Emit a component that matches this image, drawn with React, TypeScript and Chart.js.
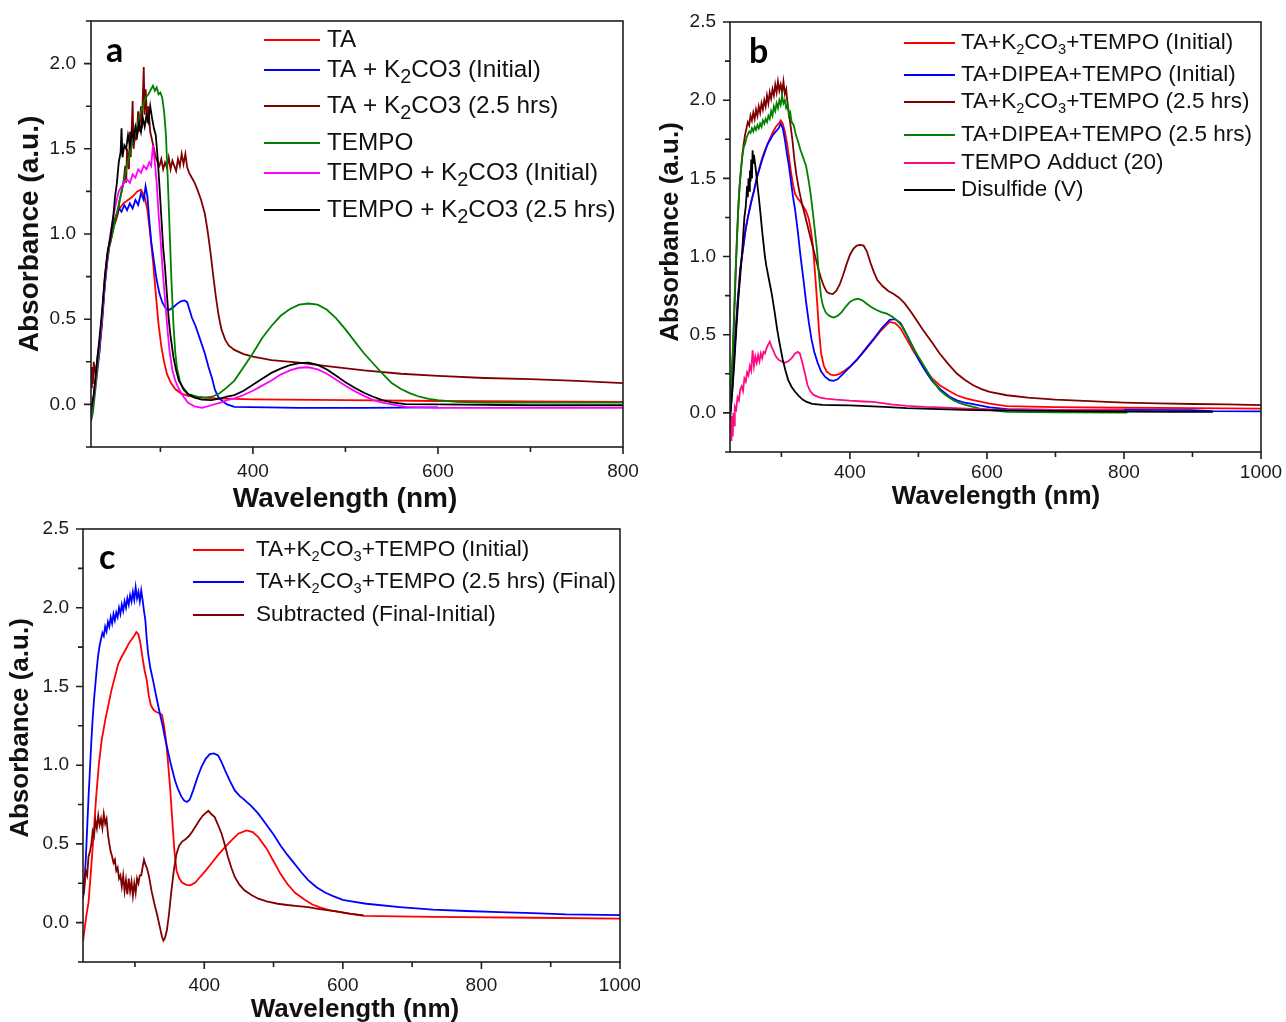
import React, { useEffect, useRef } from "react";
import { Chart, registerables } from "chart.js";
Chart.register(...registerables);

type Pt = [number, number];

// ---------------- Panel a data ----------------
const A_X_TICKS = [400, 600, 800];
const A_X_MINOR = [300, 500, 700];
const A_Y_TICKS = [0, 0.5, 1.0, 1.5, 2.0];
const A_Y_MINOR = [-0.25, 0.25, 0.75, 1.25, 1.75, 2.25];

const A_TA: Pt[] = [[225,-0.06],[228,0.05],[231,0.2],[234,0.32],[237,0.5],[240,0.72],[243,0.88],[246,0.98],[249,1.06],[252,1.11],[256,1.15],[260,1.18],[265,1.2],[270,1.22],[275,1.25],[279,1.26],[283,1.22],[286,1.14],[289,1.0],[292,0.84],[295,0.65],[298,0.47],[301,0.34],[304,0.25],[307,0.18],[311,0.13],[316,0.09],[322,0.065],[330,0.05],[340,0.042],[360,0.035],[400,0.03],[500,0.025],[600,0.02],[700,0.018],[800,0.015]];
const A_TA_K_INIT: Pt[] = [[225,-0.07],[228,0.03],[231,0.18],[234,0.3],[237,0.48],[240,0.7],[243,0.86],[246,0.98],[249,1.06],[252,1.1],[255,1.15],[258,1.13],[261,1.17],[264,1.14],[267,1.18],[270,1.15],[273,1.2],[276,1.17],[279,1.24],[282,1.2],[284,1.28],[286,1.22],[288,1.08],[290,0.96],[293,0.84],[296,0.73],[299,0.65],[302,0.6],[306,0.56],[310,0.555],[314,0.57],[318,0.59],[322,0.605],[326,0.61],[329,0.6],[334,0.51],[338,0.46],[343,0.38],[348,0.3],[352,0.22],[356,0.15],[359,0.085],[363,0.04],[367,0.02],[372,0.0],[380,-0.015],[450,-0.02],[520,-0.02],[600,-0.018]];
const A_TA_K_25: Pt[] = [[225,0.1],[226,0.22],[227,0.12],[228,0.25],[230,0.17],[232,0.28],[234,0.35],[236,0.45],[238,0.6],[240,0.75],[242,0.85],[244,0.92],[246,0.95],[248,1.0],[250,1.05],[252,1.08],[254,1.12],[256,1.2],[258,1.25],[260,1.3],[262,1.4],[263,1.3],[264,1.5],[266,1.38],[267,1.6],[268,1.45],[270,1.78],[271,1.5],[273,1.6],[274,1.55],[276,1.72],[277,1.6],[279,1.75],[280,1.62],[282,1.98],[283,1.7],[284,1.85],[286,1.65],[287,1.75],[289,1.6],[291,1.55],[293,1.5],[295,1.45],[297,1.42],[299,1.4],[301,1.44],[303,1.38],[305,1.42],[307,1.39],[309,1.45],[311,1.38],[313,1.43],[315,1.4],[317,1.37],[319,1.44],[321,1.4],[323,1.47],[325,1.41],[327,1.47],[329,1.39],[331,1.36],[334,1.33],[337,1.3],[340,1.26],[344,1.2],[348,1.12],[351,1.02],[354,0.9],[357,0.76],[360,0.63],[363,0.52],[366,0.44],[370,0.38],[374,0.345],[380,0.32],[390,0.295],[400,0.28],[420,0.26],[450,0.245],[480,0.225],[520,0.2],[560,0.18],[600,0.167],[650,0.155],[700,0.148],[750,0.138],[800,0.125]];
const A_TEMPO: Pt[] = [[225,-0.1],[227,-0.05],[230,0.1],[233,0.25],[236,0.45],[239,0.65],[242,0.82],[245,0.93],[248,1.0],[251,1.08],[254,1.15],[257,1.22],[260,1.3],[263,1.38],[266,1.45],[269,1.52],[272,1.58],[275,1.63],[278,1.7],[281,1.75],[284,1.8],[287,1.82],[290,1.85],[292,1.87],[294,1.84],[296,1.86],[298,1.82],[300,1.83],[302,1.8],[304,1.72],[306,1.58],[308,1.32],[310,1.02],[312,0.72],[314,0.48],[316,0.31],[318,0.21],[321,0.14],[325,0.085],[330,0.06],[340,0.045],[348,0.04],[356,0.045],[364,0.065],[372,0.1],[380,0.14],[390,0.22],[400,0.3],[410,0.39],[420,0.46],[430,0.52],[440,0.56],[450,0.585],[460,0.592],[470,0.585],[480,0.555],[490,0.505],[500,0.44],[510,0.37],[520,0.3],[530,0.24],[540,0.18],[550,0.125],[560,0.09],[570,0.065],[580,0.045],[590,0.033],[600,0.025],[620,0.015],[650,0.01],[700,0.01],[800,0.01]];
const A_TEMPO_K_INIT: Pt[] = [[225,-0.05],[228,0.05],[231,0.2],[234,0.35],[237,0.52],[240,0.72],[243,0.88],[246,1.0],[249,1.1],[252,1.18],[255,1.25],[258,1.28],[261,1.3],[264,1.32],[267,1.3],[270,1.35],[273,1.33],[276,1.38],[279,1.36],[282,1.4],[285,1.38],[288,1.42],[290,1.4],[292,1.52],[294,1.42],[296,1.3],[298,1.12],[300,0.98],[302,0.82],[304,0.68],[306,0.55],[308,0.42],[310,0.31],[313,0.2],[316,0.14],[320,0.09],[325,0.045],[330,0.01],[337,-0.012],[345,-0.02],[355,-0.005],[365,0.01],[372,0.025],[380,0.035],[390,0.055],[400,0.08],[410,0.11],[420,0.14],[430,0.175],[440,0.2],[450,0.215],[460,0.218],[470,0.205],[480,0.18],[490,0.145],[500,0.11],[510,0.078],[520,0.05],[530,0.025],[540,0.01],[550,0.0],[565,-0.014],[600,-0.02],[700,-0.02],[800,-0.02]];
const A_TEMPO_K_25: Pt[] = [[225,-0.04],[228,0.06],[231,0.22],[234,0.38],[237,0.55],[240,0.75],[243,0.9],[246,0.98],[249,1.1],[251,1.22],[253,1.3],[255,1.42],[257,1.48],[258,1.62],[259,1.45],[261,1.52],[263,1.5],[265,1.58],[267,1.52],[269,1.6],[271,1.56],[273,1.63],[275,1.58],[277,1.65],[279,1.6],[281,1.68],[283,1.63],[285,1.7],[287,1.66],[289,1.75],[291,1.68],[293,1.62],[295,1.58],[297,1.45],[299,1.28],[301,1.1],[303,0.92],[305,0.8],[307,0.65],[309,0.5],[311,0.4],[314,0.28],[317,0.2],[320,0.14],[324,0.1],[330,0.06],[337,0.04],[345,0.028],[355,0.025],[365,0.035],[372,0.045],[380,0.055],[390,0.08],[400,0.115],[410,0.15],[420,0.185],[430,0.21],[440,0.23],[450,0.242],[460,0.245],[470,0.232],[480,0.205],[490,0.168],[500,0.13],[510,0.098],[520,0.068],[530,0.045],[540,0.025],[550,0.012],[565,0.002],[600,0.0],[700,-0.005],[800,-0.005]];

// ---------------- Panel b data ----------------
const B_X_TICKS = [400, 600, 800, 1000];
const B_X_MINOR = [300, 500, 700, 900];
const B_Y_TICKS = [0, 0.5, 1.0, 1.5, 2.0, 2.5];
const B_Y_MINOR = [-0.25, 0.25, 0.75, 1.25, 1.75, 2.25];

const B_K_INIT: Pt[] = [[225,0.0],[228,0.15],[232,0.44],[236,0.7],[240,0.92],[244,1.05],[248,1.18],[252,1.27],[256,1.35],[260,1.42],[264,1.5],[268,1.57],[272,1.63],[276,1.68],[280,1.72],[284,1.76],[288,1.8],[292,1.83],[296,1.85],[299,1.87],[302,1.85],[305,1.8],[308,1.73],[311,1.64],[314,1.54],[317,1.46],[320,1.4],[324,1.37],[328,1.35],[332,1.32],[336,1.29],[340,1.24],[343,1.17],[346,1.07],[349,0.9],[352,0.72],[355,0.52],[358,0.38],[362,0.3],[366,0.265],[372,0.245],[378,0.24],[385,0.25],[392,0.27],[400,0.295],[410,0.337],[422,0.4],[434,0.465],[446,0.53],[458,0.582],[466,0.575],[474,0.54],[483,0.47],[492,0.4],[500,0.345],[507,0.295],[520,0.22],[531,0.177],[545,0.14],[556,0.113],[568,0.095],[580,0.081],[604,0.06],[629,0.043],[700,0.037],[800,0.033],[900,0.03],[1000,0.028]];
const B_D_INIT: Pt[] = [[225,-0.02],[228,0.12],[232,0.42],[236,0.7],[240,0.92],[244,1.05],[248,1.18],[252,1.27],[256,1.35],[260,1.42],[264,1.5],[268,1.56],[272,1.62],[276,1.67],[280,1.72],[284,1.75],[288,1.78],[292,1.8],[296,1.82],[299,1.85],[302,1.82],[305,1.75],[308,1.66],[311,1.58],[314,1.48],[317,1.38],[320,1.3],[324,1.16],[328,1.0],[332,0.86],[336,0.71],[340,0.58],[344,0.47],[348,0.39],[353,0.32],[358,0.265],[364,0.23],[370,0.21],[376,0.205],[382,0.215],[390,0.25],[400,0.295],[410,0.34],[422,0.405],[434,0.47],[446,0.54],[458,0.595],[466,0.6],[474,0.575],[483,0.5],[492,0.42],[500,0.345],[510,0.27],[520,0.205],[531,0.155],[545,0.105],[556,0.08],[568,0.065],[580,0.056],[604,0.035],[630,0.024],[700,0.02],[800,0.02],[900,0.018],[930,0.012],[1000,0.01]];
const B_K_25: Pt[] = [[225,0.12],[227,0.2],[229,0.35],[231,0.6],[233,0.85],[235,1.1],[237,1.3],[239,1.45],[241,1.55],[243,1.65],[245,1.72],[247,1.78],[249,1.82],[251,1.86],[253,1.84],[255,1.9],[257,1.87],[259,1.92],[261,1.88],[263,1.94],[265,1.9],[267,1.96],[269,1.92],[271,1.98],[273,1.94],[275,2.0],[277,1.96],[279,2.03],[281,1.98],[283,2.05],[285,2.01],[287,2.07],[289,2.03],[291,2.1],[293,2.05],[295,2.12],[297,2.06],[299,2.1],[301,2.05],[303,2.12],[305,2.04],[307,2.07],[309,1.98],[311,1.92],[313,1.85],[316,1.75],[319,1.62],[322,1.52],[326,1.42],[330,1.34],[334,1.27],[338,1.2],[342,1.13],[346,1.06],[350,0.99],[354,0.92],[358,0.86],[362,0.81],[366,0.775],[370,0.765],[375,0.76],[380,0.78],[385,0.82],[390,0.88],[395,0.95],[400,1.01],[405,1.05],[410,1.07],[415,1.075],[420,1.07],[425,1.03],[430,0.96],[435,0.9],[440,0.85],[448,0.81],[456,0.78],[464,0.76],[472,0.735],[480,0.7],[490,0.64],[500,0.575],[507,0.529],[520,0.45],[531,0.38],[544,0.31],[556,0.252],[568,0.21],[580,0.177],[592,0.152],[604,0.135],[629,0.113],[660,0.098],[700,0.085],[750,0.075],[800,0.066],[850,0.061],[900,0.057],[950,0.054],[1000,0.05]];
const B_D_25: Pt[] = [[225,0.08],[227,0.2],[229,0.4],[231,0.65],[233,0.9],[235,1.1],[237,1.3],[239,1.45],[241,1.56],[243,1.64],[245,1.7],[247,1.72],[249,1.76],[251,1.78],[253,1.8],[255,1.79],[257,1.82],[259,1.8],[261,1.83],[263,1.81],[265,1.84],[267,1.82],[269,1.85],[271,1.83],[273,1.87],[275,1.85],[277,1.88],[279,1.86],[281,1.9],[283,1.88],[285,1.93],[287,1.9],[289,1.96],[291,1.93],[293,1.98],[295,1.95],[297,2.0],[299,1.97],[301,2.03],[303,1.98],[305,2.0],[307,1.95],[309,1.97],[311,1.9],[313,1.92],[315,1.86],[318,1.84],[321,1.78],[324,1.74],[328,1.68],[332,1.63],[336,1.58],[340,1.48],[343,1.39],[346,1.28],[349,1.16],[352,1.04],[355,0.87],[358,0.74],[361,0.68],[365,0.64],[370,0.62],[376,0.61],[382,0.62],[388,0.645],[394,0.68],[400,0.71],[406,0.725],[412,0.73],[418,0.72],[424,0.7],[430,0.68],[438,0.66],[446,0.645],[454,0.635],[462,0.615],[470,0.585],[476,0.555],[484,0.49],[492,0.42],[500,0.36],[512,0.273],[522,0.2],[531,0.146],[541,0.11],[551,0.081],[560,0.062],[570,0.05],[580,0.038],[590,0.028],[610,0.015],[630,0.007],[700,0.003],[805,0.002]];
const B_ADDUCT: Pt[] = [[225,-0.12],[226,-0.05],[227,-0.18],[228,-0.02],[229,-0.15],[230,0.0],[231,-0.08],[232,0.04],[234,0.02],[236,0.1],[238,0.08],[240,0.15],[242,0.17],[244,0.14],[246,0.22],[248,0.2],[250,0.26],[252,0.24],[254,0.3],[256,0.27],[258,0.4],[260,0.3],[262,0.36],[264,0.32],[266,0.37],[268,0.33],[270,0.38],[272,0.35],[274,0.39],[276,0.38],[278,0.41],[280,0.43],[283,0.455],[286,0.42],[289,0.39],[292,0.36],[296,0.34],[300,0.33],[305,0.32],[310,0.33],[315,0.35],[320,0.38],[324,0.39],[327,0.38],[330,0.33],[334,0.26],[338,0.18],[342,0.14],[347,0.115],[355,0.1],[365,0.092],[380,0.085],[400,0.078],[420,0.073],[434,0.07],[460,0.055],[483,0.045],[510,0.038],[531,0.035],[570,0.028],[604,0.022],[700,0.02],[800,0.02]];
const B_DISULFIDE: Pt[] = [[225,-0.05],[228,0.12],[231,0.3],[234,0.52],[237,0.72],[240,0.88],[243,1.05],[246,1.25],[248,1.32],[250,1.45],[251,1.38],[252,1.5],[253,1.42],[254,1.55],[255,1.48],[256,1.62],[257,1.5],[258,1.68],[259,1.6],[260,1.65],[262,1.58],[264,1.5],[266,1.42],[268,1.34],[270,1.25],[272,1.16],[274,1.08],[276,1.0],[278,0.94],[282,0.85],[286,0.76],[290,0.65],[294,0.53],[298,0.43],[302,0.34],[306,0.27],[310,0.21],[315,0.166],[320,0.135],[325,0.11],[331,0.085],[337,0.07],[345,0.058],[360,0.052],[375,0.05],[400,0.048],[450,0.038],[483,0.03],[530,0.024],[580,0.018],[650,0.015],[726,0.011],[800,0.009],[872,0.007],[930,0.006]];

// ---------------- Panel c data ----------------
const C_X_TICKS = [400, 600, 800, 1000];
const C_X_MINOR = [300, 500, 700, 900];
const C_Y_TICKS = [0, 0.5, 1.0, 1.5, 2.0, 2.5];
const C_Y_MINOR = [-0.25, 0.25, 0.75, 1.25, 1.75, 2.25];

const C_INITIAL: Pt[] = [[225,-0.12],[227,-0.05],[230,0.05],[233,0.13],[236,0.3],[240,0.54],[244,0.8],[248,1.01],[252,1.16],[257,1.285],[262,1.39],[266,1.475],[271,1.56],[276,1.645],[281,1.69],[286,1.73],[292,1.78],[298,1.815],[302,1.846],[305,1.83],[308,1.77],[311,1.68],[314,1.6],[317,1.54],[320,1.44],[323,1.38],[327,1.35],[331,1.338],[335,1.33],[339,1.32],[342,1.25],[345,1.15],[348,1.0],[351,0.84],[354,0.64],[357,0.45],[360,0.33],[364,0.28],[368,0.255],[374,0.24],[380,0.237],[387,0.255],[394,0.29],[402,0.33],[410,0.374],[420,0.43],[430,0.48],[440,0.525],[449,0.565],[461,0.586],[470,0.575],[478,0.543],[490,0.47],[500,0.39],[510,0.31],[520,0.245],[531,0.19],[545,0.145],[556,0.115],[568,0.095],[580,0.08],[604,0.06],[630,0.043],[730,0.036],[874,0.031],[1000,0.025]];
const C_FINAL: Pt[] = [[225,0.15],[227,0.25],[229,0.4],[231,0.6],[233,0.8],[235,0.97],[237,1.15],[239,1.3],[241,1.42],[243,1.52],[245,1.62],[247,1.7],[249,1.76],[251,1.8],[253,1.84],[255,1.82],[257,1.88],[259,1.85],[261,1.91],[263,1.88],[265,1.94],[267,1.9],[269,1.96],[271,1.92],[273,1.97],[275,1.94],[277,2.0],[279,1.96],[281,2.02],[283,1.98],[285,2.04],[287,2.0],[289,2.06],[291,2.02],[293,2.08],[295,2.04],[297,2.1],[299,2.05],[301,2.13],[303,2.06],[305,2.1],[307,2.04],[309,2.11],[311,2.05],[313,1.98],[315,1.92],[317,1.8],[319,1.71],[322,1.62],[326,1.54],[331,1.43],[336,1.327],[340,1.25],[343,1.18],[347,1.1],[351,1.02],[355,0.95],[358,0.9],[362,0.85],[367,0.8],[371,0.775],[375,0.766],[379,0.78],[384,0.84],[390,0.92],[396,0.99],[402,1.04],[408,1.07],[414,1.075],[420,1.062],[425,1.02],[430,0.967],[437,0.9],[444,0.84],[451,0.805],[458,0.78],[468,0.74],[478,0.692],[490,0.62],[500,0.56],[510,0.49],[520,0.43],[531,0.37],[540,0.32],[550,0.27],[562,0.225],[575,0.19],[586,0.168],[600,0.145],[610,0.137],[634,0.12],[682,0.099],[730,0.082],[778,0.074],[826,0.067],[874,0.061],[922,0.053],[1000,0.048]];
const C_SUBTRACTED: Pt[] = [[225,0.28],[227,0.22],[229,0.33],[231,0.3],[233,0.42],[235,0.45],[237,0.5],[239,0.58],[241,0.55],[243,0.65],[245,0.6],[247,0.68],[249,0.62],[251,0.66],[253,0.6],[255,0.69],[257,0.63],[259,0.66],[261,0.56],[263,0.5],[265,0.45],[267,0.42],[269,0.38],[271,0.4],[273,0.33],[275,0.35],[277,0.28],[279,0.3],[281,0.23],[283,0.3],[285,0.2],[287,0.27],[289,0.18],[291,0.28],[293,0.2],[295,0.26],[297,0.17],[299,0.25],[301,0.19],[303,0.28],[305,0.25],[307,0.3],[309,0.3],[311,0.35],[313,0.4],[315,0.37],[317,0.35],[320,0.3],[324,0.2],[328,0.12],[332,0.05],[336,-0.03],[339,-0.09],[341,-0.115],[343,-0.1],[346,-0.05],[349,0.05],[352,0.18],[356,0.33],[360,0.44],[364,0.49],[368,0.515],[373,0.53],[378,0.55],[383,0.58],[388,0.615],[393,0.65],[398,0.68],[403,0.7],[406,0.71],[410,0.69],[415,0.67],[420,0.62],[425,0.565],[430,0.49],[434,0.42],[439,0.35],[444,0.29],[451,0.24],[458,0.205],[468,0.175],[478,0.152],[490,0.135],[506,0.12],[520,0.112],[535,0.105],[550,0.098],[564,0.088],[580,0.078],[593,0.07],[610,0.057],[630,0.046]];

// ---------------- styles / layout ----------------
const RED = "#ff0000";
const BLUE = "#0000ff";
const BROWN = "#800000";
const GREEN = "#008000";
const MAGENTA = "#ff00ff";
const PINK = "#ff0a82";
const BLACK = "#000000";
const SANS = '"Liberation Sans", Arial, sans-serif';
const LETTER_FONT = 'Lato, "Open Sans", sans-serif';

interface Series { label: string; color: string; data: Pt[] }
interface Panel {
  id: string; left: number; top: number; w: number; h: number;
  plot: { l: number; t: number; r: number; b: number };
  xr: [number, number]; yr: [number, number];
  xTicks: number[]; xMinor: number[]; yTicks: number[]; yMinor: number[];
  xPad: number; yPad: number;
  series: Series[];
  legend: { x1: number; x2: number; tx: number; ys: number[]; size: number; sub: number };
  letter: { t: string; x: number; y: number };
  yTitle: { x: number; y: number; size: number };
  xTitle: { x: number; y: number; size: number };
}

const PANELS: Panel[] = [
  {
    id: "a", left: 0, top: 0, w: 640, h: 525,
    plot: { l: 91, t: 21, r: 623, b: 447 },
    xr: [225, 800], yr: [-0.25, 2.25],
    xTicks: A_X_TICKS, xMinor: A_X_MINOR, yTicks: A_Y_TICKS, yMinor: A_Y_MINOR,
    xPad: 13, yPad: 15,
    series: [
      { label: "TA", color: RED, data: A_TA },
      { label: "TA + K_2CO3 (Initial)", color: BLUE, data: A_TA_K_INIT },
      { label: "TA + K_2CO3 (2.5 hrs)", color: BROWN, data: A_TA_K_25 },
      { label: "TEMPO", color: GREEN, data: A_TEMPO },
      { label: "TEMPO + K_2CO3 (Initial)", color: MAGENTA, data: A_TEMPO_K_INIT },
      { label: "TEMPO + K_2CO3 (2.5 hrs)", color: BLACK, data: A_TEMPO_K_25 },
    ],
    legend: { x1: 264, x2: 320, tx: 327, ys: [40, 70, 106, 143, 173, 210], size: 24.3, sub: 0.82 },
    letter: { t: "a", x: 106, y: 62 },
    yTitle: { x: 30, y: 234, size: 28 },
    xTitle: { x: 345, y: 499, size: 28 },
  },
  {
    id: "b", left: 640, top: 0, w: 646, h: 515,
    plot: { l: 730, t: 22, r: 1261, b: 452 },
    xr: [225, 1000], yr: [-0.25, 2.5],
    xTicks: B_X_TICKS, xMinor: B_X_MINOR, yTicks: B_Y_TICKS, yMinor: B_Y_MINOR,
    xPad: 9, yPad: 14,
    series: [
      { label: "TA+K_2CO_3+TEMPO (Initial)", color: RED, data: B_K_INIT },
      { label: "TA+DIPEA+TEMPO (Initial)", color: BLUE, data: B_D_INIT },
      { label: "TA+K_2CO_3+TEMPO (2.5 hrs)", color: BROWN, data: B_K_25 },
      { label: "TA+DIPEA+TEMPO (2.5 hrs)", color: GREEN, data: B_D_25 },
      { label: "TEMPO Adduct (20)", color: PINK, data: B_ADDUCT },
      { label: "Disulfide (V)", color: BLACK, data: B_DISULFIDE },
    ],
    legend: { x1: 904, x2: 955, tx: 961, ys: [43, 75, 102, 135, 163, 190], size: 22.5, sub: 0.65 },
    letter: { t: "b", x: 749, y: 63 },
    yTitle: { x: 671, y: 232, size: 26 },
    xTitle: { x: 996, y: 497, size: 26 },
  },
  {
    id: "c", left: 0, top: 510, w: 640, h: 512,
    plot: { l: 83, t: 529, r: 620, b: 962 },
    xr: [225, 1000], yr: [-0.25, 2.5],
    xTicks: C_X_TICKS, xMinor: C_X_MINOR, yTicks: C_Y_TICKS, yMinor: C_Y_MINOR,
    xPad: 12, yPad: 14,
    series: [
      { label: "TA+K_2CO_3+TEMPO (Initial)", color: RED, data: C_INITIAL },
      { label: "TA+K_2CO_3+TEMPO (2.5 hrs) (Final)", color: BLUE, data: C_FINAL },
      { label: "Subtracted (Final-Initial)", color: BROWN, data: C_SUBTRACTED },
    ],
    legend: { x1: 193, x2: 244, tx: 256, ys: [550, 582, 615], size: 22.6, sub: 0.65 },
    letter: { t: "c", x: 99, y: 569 },
    yTitle: { x: 21, y: 728, size: 26 },
    xTitle: { x: 355, y: 1010, size: 26 },
  },
];

function drawRich(ctx: CanvasRenderingContext2D, text: string, x: number, y: number, size: number, sub: number) {
  let cx = x;
  let i = 0;
  while (i < text.length) {
    if (text[i] === "_") {
      const ch = text[i + 1];
      ctx.font = `${size * sub}px ${SANS}`;
      ctx.fillText(ch, cx, y + size * 0.32);
      cx += ctx.measureText(ch).width;
      i += 2;
    } else {
      let j = i;
      while (j < text.length && text[j] !== "_") j++;
      const s = text.slice(i, j);
      ctx.font = `${size}px ${SANS}`;
      ctx.fillText(s, cx, y);
      cx += ctx.measureText(s).width;
      i = j;
    }
  }
}

function makeDeco(p: Panel) {
  return {
    id: "deco_" + p.id,
    afterDraw(chart: any) {
      const ctx: CanvasRenderingContext2D = chart.ctx;
      const { left, top, right, bottom } = chart.chartArea;
      const xs = chart.scales.x;
      const ys = chart.scales.y;
      const ox = p.left, oy = p.top;
      ctx.save();
      ctx.strokeStyle = "#1e1e1e";
      ctx.lineWidth = 1.6;
      ctx.strokeRect(left, top, right - left, bottom - top);
      ctx.beginPath();
      const tick = (vals: number[], len: number) => {
        for (const v of vals) {
          const px = xs.getPixelForValue(v);
          ctx.moveTo(px, bottom);
          ctx.lineTo(px, bottom + len);
        }
      };
      const ytick = (vals: number[], len: number) => {
        for (const v of vals) {
          const py = ys.getPixelForValue(v);
          ctx.moveTo(left, py);
          ctx.lineTo(left - len, py);
        }
      };
      tick(p.xTicks, 7); tick(p.xMinor, 5);
      ytick(p.yTicks, 7); ytick(p.yMinor, 5);
      ctx.stroke();

      // axis titles
      ctx.fillStyle = "#111";
      ctx.textAlign = "center";
      ctx.textBaseline = "middle";
      ctx.font = `bold ${p.xTitle.size}px ${SANS}`;
      ctx.fillText("Wavelength (nm)", p.xTitle.x - ox, p.xTitle.y - oy);
      ctx.save();
      ctx.translate(p.yTitle.x - ox, p.yTitle.y - oy);
      ctx.rotate(-Math.PI / 2);
      ctx.font = `bold ${p.yTitle.size}px ${SANS}`;
      ctx.fillText("Absorbance (a.u.)", 0, 0);
      ctx.restore();

      // panel letter
      ctx.textAlign = "left";
      ctx.textBaseline = "alphabetic";
      ctx.font = `bold 34px ${LETTER_FONT}`;
      ctx.fillStyle = "#000";
      ctx.fillText(p.letter.t, p.letter.x - ox, p.letter.y - oy);

      // legend
      const lg = p.legend;
      ctx.textBaseline = "middle";
      p.series.forEach((s, i) => {
        const y = lg.ys[i] - oy;
        ctx.strokeStyle = s.color;
        ctx.lineWidth = 2;
        ctx.beginPath();
        ctx.moveTo(lg.x1 - ox, y);
        ctx.lineTo(lg.x2 - ox, y);
        ctx.stroke();
        ctx.fillStyle = "#111";
        drawRich(ctx, s.label, lg.tx - ox, y, lg.size, lg.sub);
      });
      ctx.restore();
    },
  };
}

function PanelChart({ p }: { p: Panel }) {
  const ref = useRef<HTMLCanvasElement>(null);
  useEffect(() => {
    const canvas = ref.current;
    if (!canvas) return;
    const n = p.series.length;
    const yW = p.plot.l - p.left;
    const xH = p.top + p.h - p.plot.b;
    const chart = new Chart(canvas, {
      type: "line",
      data: {
        datasets: p.series.map((s, i) => ({
          label: s.label,
          data: s.data.map(([x, y]) => ({ x, y })),
          borderColor: s.color,
          backgroundColor: s.color,
          borderWidth: 1.8,
          pointRadius: 0,
          pointHoverRadius: 0,
          tension: 0,
          fill: false,
          order: n - 1 - i,
        })),
      },
      options: {
        responsive: false,
        animation: false,
        devicePixelRatio: 1,
        events: [],
        parsing: false as any,
        layout: {
          padding: { left: 0, bottom: 0, top: p.plot.t - p.top, right: p.left + p.w - p.plot.r },
        },
        plugins: { legend: { display: false }, tooltip: { enabled: false }, title: { display: false } },
        scales: {
          x: {
            type: "linear",
            min: p.xr[0],
            max: p.xr[1],
            grid: { display: false, drawTicks: false },
            border: { display: false },
            ticks: {
              autoSkip: false,
              maxRotation: 0,
              padding: p.xPad,
              color: "#1a1a1a",
              font: { family: SANS, size: 19 },
              callback: (v: any) => String(v),
            },
            afterBuildTicks: (s: any) => { s.ticks = p.xTicks.map((v) => ({ value: v })); },
            afterFit: (s: any) => { s.height = xH; s.paddingLeft = 0; s.paddingRight = 0; },
          },
          y: {
            type: "linear",
            min: p.yr[0],
            max: p.yr[1],
            grid: { display: false, drawTicks: false },
            border: { display: false },
            ticks: {
              autoSkip: false,
              padding: p.yPad,
              color: "#1a1a1a",
              font: { family: SANS, size: 19 },
              callback: (v: any) => Number(v).toFixed(1),
            },
            afterBuildTicks: (s: any) => { s.ticks = p.yTicks.map((v) => ({ value: v })); },
            afterFit: (s: any) => { s.width = yW; s.paddingTop = 0; s.paddingBottom = 0; },
          },
        },
      } as any,
      plugins: [makeDeco(p)],
    });
    return () => chart.destroy();
  }, [p]);
  return (
    <canvas
      ref={ref}
      width={p.w}
      height={p.h}
      style={{ position: "absolute", left: p.left, top: p.top, width: p.w, height: p.h }}
    />
  );
}

export default function App() {
  return (
    <div style={{ position: "absolute", left: 0, top: 0, width: 1286, height: 1022, background: "#fff", overflow: "hidden" }}>
      {PANELS.map((p) => (
        <PanelChart key={p.id} p={p} />
      ))}
    </div>
  );
}
